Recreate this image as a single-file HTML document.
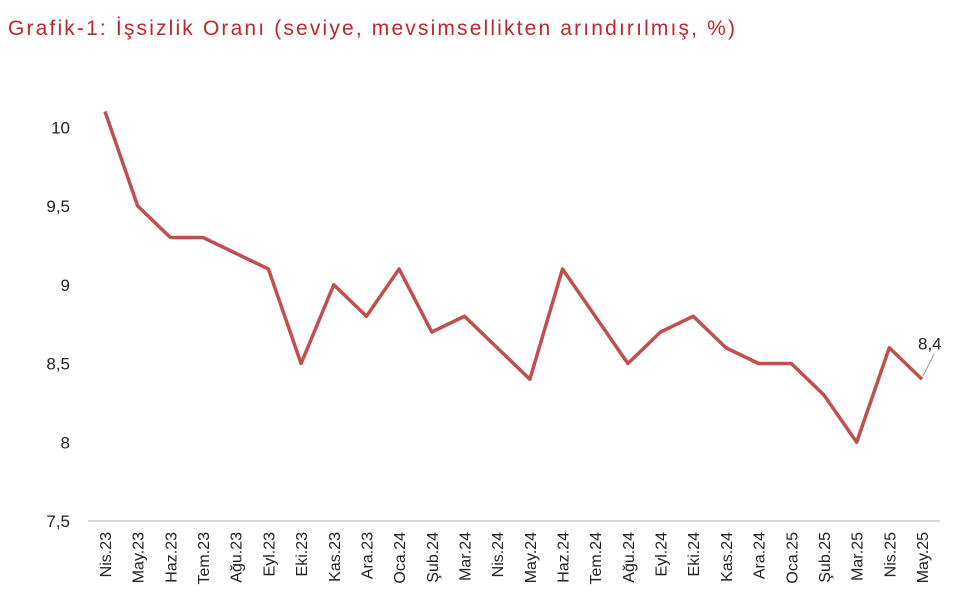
<!DOCTYPE html>
<html><head><meta charset="utf-8"><style>
body{margin:0;background:#fff;width:960px;height:610px;overflow:hidden;font-family:"Liberation Sans",sans-serif}
</style></head><body>
<svg width="960" height="610" xmlns="http://www.w3.org/2000/svg">
<text x="8" y="35" fill="#c0262d" font-size="21" textLength="727" lengthAdjust="spacing" font-family="Liberation Sans, sans-serif">Grafik-1: İşsizlik Oranı (seviye, mevsimsellikten arındırılmış, %)</text>
<line x1="88" y1="521" x2="940" y2="521" stroke="#d9d9d9" stroke-width="2"/>
<g id="yt"></g><g id="xt"></g>
<path id="ln" fill="none" stroke="#c0504d" stroke-width="3.5" stroke-linejoin="round"/>
<g id="lab"></g>
</svg>
<script>
const categories=["Nis.23","May.23","Haz.23","Tem.23","Ağu.23","Eyl.23","Eki.23","Kas.23","Ara.23","Oca.24","Şub.24","Mar.24","Nis.24","May.24","Haz.24","Tem.24","Ağu.24","Eyl.24","Eki.24","Kas.24","Ara.24","Oca.25","Şub.25","Mar.25","Nis.25","May.25"];
const values=[10.1,9.5,9.3,9.3,9.2,9.1,8.5,9.0,8.8,9.1,8.7,8.8,8.6,8.4,9.1,8.8,8.5,8.7,8.8,8.6,8.5,8.5,8.3,8.0,8.6,8.4];
const yTicks=[7.5,8,8.5,9,9.5,10];
const yTickLabels=["7,5","8","8,5","9","9,5","10"];
const NS="http://www.w3.org/2000/svg";
const y=v=>521-(v-7.5)*157.5;
const x=i=>105+i*(922-105)/(categories.length-1);
const yt=document.getElementById('yt');
yTicks.forEach((t,i)=>{const e=document.createElementNS(NS,'text');


e.setAttribute('x',70);e.setAttribute('y',y(t)+6);e.setAttribute('text-anchor','end');e.setAttribute('font-size','17');e.setAttribute('fill','#222');e.textContent=yTickLabels[i];yt.appendChild(e);});
const xt=document.getElementById('xt');
categories.forEach((c,i)=>{const e=document.createElementNS(NS,'text');


e.setAttribute('transform',`translate(${x(i)+6},532) rotate(-90)`);e.setAttribute('text-anchor','end');e.setAttribute('font-size','16');e.setAttribute('fill','#222');e.textContent=c;xt.appendChild(e);});
document.getElementById('ln').setAttribute('d',values.map((v,i)=>(i?'L':'M')+x(i)+','+y(v)).join(''));
const n=values.length-1,lab=document.getElementById('lab');
const l=document.createElementNS(NS,'line');


l.setAttribute('x1',x(n)+1);l.setAttribute('y1',y(values[n])-3);l.setAttribute('x2',x(n)+12);l.setAttribute('y2',y(values[n])-25);l.setAttribute('stroke','#999');lab.appendChild(l);
const t=document.createElementNS(NS,'text');


t.setAttribute('x',x(n)-4);t.setAttribute('y',y(values[n])-30);t.setAttribute('font-size','17');t.setAttribute('fill','#222');t.textContent=String(values[n]).replace('.',',');lab.appendChild(t);
</script>
</body></html>
